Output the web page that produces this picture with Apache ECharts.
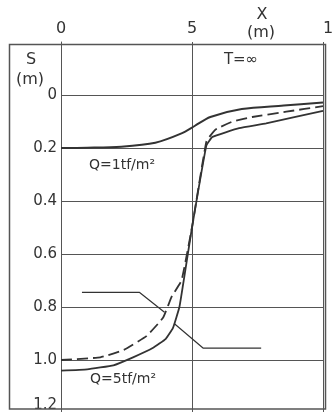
<!DOCTYPE html>
<html>
<head>
<meta charset="utf-8">
<script src="https://cdn.jsdelivr.net/npm/echarts@6/dist/echarts.min.js"></script>
<style>
html,body{margin:0;padding:0;background:#fff;}
#c{width:333px;height:412px;}
</style>
</head>
<body>
<div id="c"></div>
<script>
// Q = 1 tf/m2 (solid)
const xQ1 = [0, 1, 2.3, 3.6, 4.6, 5.1, 5.7, 6.9, 8.5, 10];
const sQ1 = [0.2, 0.199, 0.195, 0.18, 0.145, 0.117, 0.083, 0.053, 0.04, 0.028];
// Q = 5 tf/m2 (solid)
const xQ5s = [0, 1, 2, 2.75, 3.5, 4.0, 4.27, 4.52, 4.7, 5.0, 5.55, 5.78, 6.8, 7.83, 10];
const sQ5s = [1.04, 1.035, 1.02, 0.99, 0.955, 0.92, 0.88, 0.80, 0.69, 0.5, 0.19, 0.158, 0.125, 0.107, 0.06];
// Q = 5 tf/m2 (dashed)
const xQ5d = [0, 1.5, 2.4, 3.26, 3.9, 4.22, 4.6, 5.0, 5.55, 5.9, 6.55, 7.3, 8.6, 10];
const sQ5d = [1.0, 0.99, 0.962, 0.91, 0.84, 0.762, 0.70, 0.5, 0.175, 0.13, 0.1, 0.083, 0.063, 0.042];
// leader lines
const xLeadA = [0.8, 3.0, 3.95];
const sLeadA = [0.745, 0.745, 0.82];
const xLeadB = [7.64, 5.42, 4.33];
const sLeadB = [0.955, 0.955, 0.863];

const xTicks = [0, 5, 10];
const yTicks = [0, 0.2, 0.4, 0.6, 0.8, 1.0, 1.2];

const zip = (a, b) => a.map((v, i) => [v, b[i]]);
const ink = '#333333';
const font = 'DejaVu Sans';

const chart = echarts.init(document.getElementById('c'), null, {renderer: 'canvas'});
chart.setOption({
  animation: false,
  backgroundColor: '#ffffff',
  grid: {left: 61, top: 42, width: 262, height: 371, containLabel: false, outerBoundsMode: 'none'},
  xAxis: {
    type: 'value', position: 'top', min: 0, max: 10, interval: 5,
    axisLine: {show: false}, axisTick: {show: false},
    splitLine: {show: true, lineStyle: {color: '#555', width: 1}},
    axisLabel: {fontSize: 16, color: ink, margin: 5, fontFamily: font, alignMaxLabel: 'left',
      formatter: v => xTicks.includes(v) ? String(v) : ''}
  },
  yAxis: {
    type: 'value', inverse: true, min: -0.2, max: 1.2, interval: 0.2,
    axisLine: {show: true, lineStyle: {color: '#555', width: 1}},
    axisTick: {show: false},
    splitLine: {show: true, showMinLine: false, lineStyle: {color: '#555', width: 1}},
    axisLabel: {fontSize: 15, color: ink, margin: 4, fontFamily: font,
      rich: {low: {fontSize: 15, color: ink, fontFamily: font, padding: [0, 0, 16, 0]}},
      formatter: v => {
        if (v < -1e-9) return '';
        if (Math.abs(v) < 1e-9) return '0';
        const t = yTicks.find(y => Math.abs(y - v) < 1e-6);
        if (t === undefined) return '';
        if (t === yTicks[yTicks.length - 1]) return '{low|' + t.toFixed(1) + '}';
        return t.toFixed(1);
      }}
  },
  series: [
    {type: 'line', data: zip(xQ1, sQ1), showSymbol: false, smooth: 0.3,
      lineStyle: {color: ink, width: 2}},
    {type: 'line', data: zip(xQ5s, sQ5s), showSymbol: false, smooth: 0.1,
      lineStyle: {color: ink, width: 1.8}},
    {type: 'line', data: zip(xQ5d, sQ5d), showSymbol: false, smooth: 0.1,
      lineStyle: {color: ink, width: 1.8, type: [11, 5]}},
    {type: 'line', data: zip(xLeadA, sLeadA), showSymbol: false,
      lineStyle: {color: ink, width: 1.2}},
    {type: 'line', data: zip(xLeadB, sLeadB), showSymbol: false,
      lineStyle: {color: ink, width: 1.2}}
  ],
  graphic: [
    {type: 'rect', shape: {x: 9.5, y: 44.5, width: 316, height: 364.5},
      style: {fill: 'none', stroke: '#555', lineWidth: 1.5}, z: 10},
    {type: 'text', x: 31, y: 60, style: {text: 'S', font: '16px "DejaVu Sans"', fill: ink, align: 'center', verticalAlign: 'middle'}, z: 11},
    {type: 'text', x: 30, y: 80, style: {text: '(m)', font: '16px "DejaVu Sans"', fill: ink, align: 'center', verticalAlign: 'middle'}, z: 11},
    {type: 'text', x: 262, y: 15, style: {text: 'X', font: '16px "DejaVu Sans"', fill: ink, align: 'center', verticalAlign: 'middle'}, z: 11},
    {type: 'text', x: 261, y: 33, style: {text: '(m)', font: '16px "DejaVu Sans"', fill: ink, align: 'center', verticalAlign: 'middle'}, z: 11},
    {type: 'text', x: 241, y: 60, style: {text: 'T=∞', font: '15px "DejaVu Sans"', fill: ink, align: 'center', verticalAlign: 'middle'}, z: 11},
    {type: 'text', x: 122, y: 165, style: {text: 'Q=1tf/m²', font: '14px "DejaVu Sans"', fill: ink, align: 'center', verticalAlign: 'middle'}, z: 11},
    {type: 'text', x: 123, y: 379, style: {text: 'Q=5tf/m²', font: '14px "DejaVu Sans"', fill: ink, align: 'center', verticalAlign: 'middle'}, z: 11}
  ]
});
</script>
</body>
</html>
